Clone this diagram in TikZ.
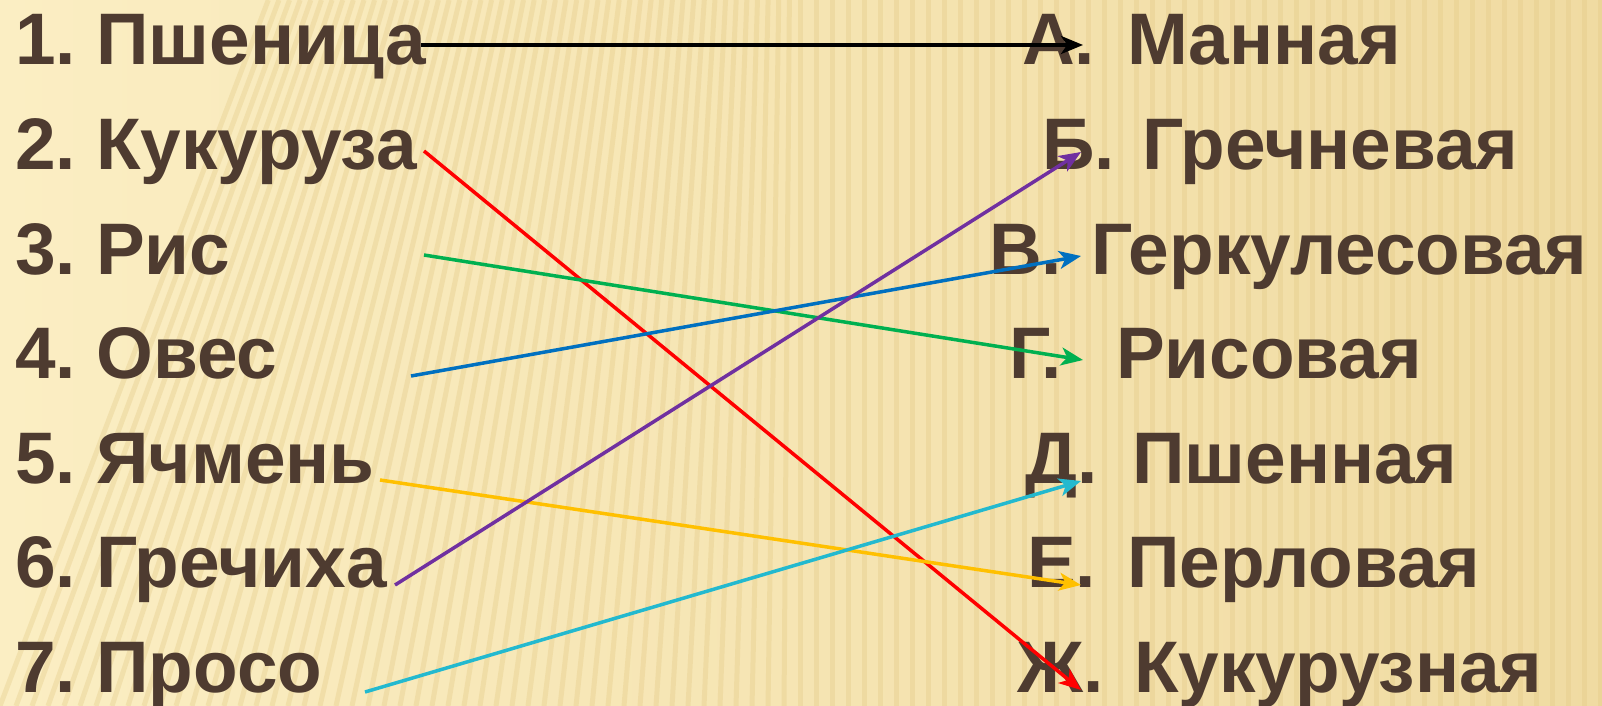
\documentclass[tikz,border=0pt]{standalone}
\usepackage{fontspec}
\setmainfont{Liberation Sans}
\usetikzlibrary{arrows.meta}

\definecolor{paper}{HTML}{FBEEC3}
\definecolor{paperdark}{HTML}{F0DBA2}
\definecolor{stripecol}{HTML}{E3C985}
\definecolor{ink}{HTML}{4E3B30}
\definecolor{lnred}{HTML}{FF0000}
\definecolor{lngreen}{HTML}{00B050}
\definecolor{lnblue}{HTML}{0070C0}
\definecolor{lnyellow}{HTML}{FFC000}
\definecolor{lnpurple}{HTML}{7030A0}
\definecolor{lncyan}{HTML}{23B9CF}

\tikzset{
	item/.style={text=ink, font=\fontsize{73}{86}\selectfont\bfseries, inner sep=0pt, anchor=base west},
	link/.style={line width=3.5pt, -{Stealth[length=22pt,width=18pt,inset=6pt]}},
	stripe/.style={stripecol, line width=5pt, opacity=0.35}
}

\begin{document}
\begin{tikzpicture}[x=1pt, y=-1pt]
			\useasboundingbox (0,0) rectangle (1602,706);
			\shade[left color=paper, right color=paperdark] (0,0) rectangle (1602,706);
			\begin{scope}
				\clip (0,0) rectangle (1602,706);
				\foreach \x in {0,16,...,1600} {
					\pgfmathsetmacro\d{max(0,0.38*706*(1-\x/800))}
					\draw[stripe] (\x,706) -- (\x+\d,0);
				}
			\end{scope}
			\foreach \i/\w in {1/Пшеница, 2/Кукуруза, 3/Рис, 4/Овес, 5/Ячмень, 6/Гречиха, 7/Просо}
				\node[item] (w\i) at (15,{65+104.5*(\i-1)}) {\i.~\w};
			\foreach \i/\l/\lx/\w/\wx in {1/А/1022/Манная/1127, 2/Б/1042/Гречневая/1142,
					3/В/989/Геркулесовая/1091, 4/Г/1009/Рисовая/1116, 5/Д/1025/Пшенная/1132,
					6/Е/1027/Перловая/1127, 7/Ж/1017/Кукурузная/1134} {
				\node[item] (l\i) at (\lx,{65+104.5*(\i-1)}) {\l.};
				\node[item] (r\i) at (\wx,{65+104.5*(\i-1)}) {\w};
			}
			\coordinate (s1) at (421,45);
			\coordinate (s2) at (424,151);
			\coordinate (s3) at (424,255);
			\coordinate (s4) at (411,376);
			\coordinate (s5) at (380,480);
			\coordinate (s6) at (395,585);
			\coordinate (s7) at (365,692);
			\coordinate (t1) at (1083,45);
			\coordinate (t2) at (1081,690);
			\coordinate (t3) at (1083,360);
			\coordinate (t4) at (1081,256);
			\coordinate (t5) at (1081,585);
			\coordinate (t6) at (1081,152);
			\coordinate (t7) at (1081,481);
			\draw[link, black] (s1) -- (t1);
			\draw[link, lnred] (s2) -- (t2);
			\draw[link, lngreen] (s3) -- (t3);
			\draw[link, lnblue] (s4) -- (t4);
			\draw[link, lnyellow] (s5) -- (t5);
			\draw[link, lnpurple] (s6) -- (t6);
			\draw[link, lncyan] (s7) -- (t7);
		\end{tikzpicture}
\end{document}
